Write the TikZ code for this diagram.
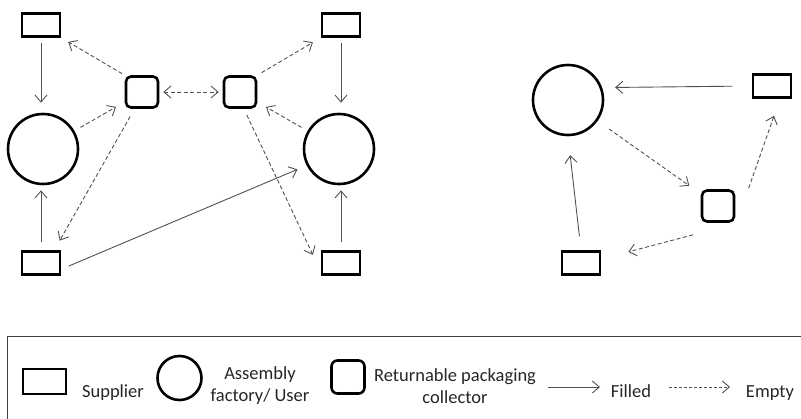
\documentclass[tikz,border=0pt]{standalone}
\usepackage{fontspec}
\setmainfont{Carlito}
\usetikzlibrary{arrows.meta}
\definecolor{arrowgray}{HTML}{505050}
\definecolor{txtgray}{HTML}{262626}
\definecolor{legline}{HTML}{404040}
\tikzset{barb/.tip={Straight Barb[length=7pt,width=12pt]}}
\begin{document}
\begin{tikzpicture}[x=1pt,y=-1pt,
 sup/.style={draw=black, line width=2.6pt, minimum width=38pt, minimum height=23pt, inner sep=0pt},
 fac/.style={draw=black, circle, line width=2.6pt, minimum size=70pt, inner sep=0pt},
 col/.style={draw=black, rounded corners=5pt, line width=2.6pt, minimum width=32pt, minimum height=31pt, inner sep=0pt},
 filled/.style={draw=arrowgray, line width=0.9pt, -barb},
 empty/.style={filled, dash pattern=on 4pt off 2.5pt},
 lbl/.style={font=\fontsize{18.5}{22}\selectfont, text=txtgray, inner sep=0pt}
]
\useasboundingbox (0,0) rectangle (801,418);
% left diagram
\node[sup] (s1) at (41,25) {};
\node[sup] (s2) at (41,263) {};
\node[fac] (c1) at (43,149) {};
\node[col] (k1) at (142,92) {};
\node[col] (k2) at (240,92) {};
\node[fac] (c2) at (339,149) {};
\node[sup] (s3) at (341,25) {};
\node[sup] (s4) at (341,263) {};
% right diagram
\node[fac] (c3) at (568,100) {};
\node[sup] (s5) at (772,86) {};
\node[col] (k3) at (718,206) {};
\node[sup] (s6) at (581,263) {};
% left connectors
\draw[filled, shorten <=5pt, shorten >=10pt] (s1.south) -- (s1.south |- c1.north);
\draw[filled, shorten <=8pt, shorten >=5pt] (s2.north) -- (s2.north |- c1.south);
\draw[empty, shorten <=7pt, shorten >=10pt] (c1) -- (k1);
\draw[empty, shorten <=3pt, shorten >=8pt] (k1.north west) -- (s1.south east);
\draw[empty, shorten <=9pt, shorten >=11pt] (k1.246) -- (s2.44);
\draw[empty, barb-barb, shorten <=4pt, shorten >=4pt] (k1.east) -- (k2.west);
\draw[empty, shorten <=5pt, shorten >=9pt] (k2.north east) -- (s3.south west);
\draw[empty, shorten <=7pt, shorten >=10pt] (c2) -- (k2);
\draw[empty, shorten <=7pt, shorten >=9pt] (k2.283) -- ([xshift=-4pt]s4.west);
\draw[filled, shorten <=8pt, shorten >=10pt] (s2.-17) -- (c2.207);
\draw[filled, shorten <=5pt, shorten >=10pt] (s3.south) -- (s3.south |- c2.north);
\draw[filled, shorten <=8pt, shorten >=5pt] (s4.north) -- (s4.north |- c2.south);
% right connectors
\draw[filled, shorten <=19pt, shorten >=13pt] (s5.west) -- (c3.20);
\draw[empty, shorten <=14pt, shorten >=14pt] (c3) -- (k3);
\draw[empty, shorten <=1pt, shorten >=18pt] ([xshift=13pt]k3.north east) -- ([xshift=8pt]s5.south);
\draw[empty, shorten <=8pt, shorten >=28pt] ([yshift=-10pt]k3.south west) -- ([yshift=4pt]s6.east);
\draw[filled, shorten <=14pt, shorten >=19pt] (s6.north) -- (c3.south);
% legend
\draw[line width=0.9pt, draw=legline] (7,420) -- (7,336) -- (803,336);
\node[sup, minimum width=43pt, minimum height=25pt] (ls) at (44.5,381.5) {};
\node[lbl, anchor=base] (lt1) at (113,397) {Supplier};
\node[fac, minimum size=44pt] (lc) at (179.5,378) {};
\node[lbl, align=center] (lt2) at (260,386) {Assembly\\factory/ User};
\node[col, minimum width=33pt, minimum height=33pt, rounded corners=6pt] (lk) at (348,377) {};
\node[lbl, align=center] (lt3) at (455,386) {Returnable packaging\\collector};
\coordinate (fa) at (548,387);
\coordinate (fb) at (600,387);
\draw[filled] (fa) -- (fb);
\node[lbl, anchor=base] (lt4) at (631,397) {Filled};
\coordinate (ea) at (669,387);
\coordinate (eb) at (730,387);
\draw[empty, dash pattern=on 3pt off 2pt] (ea) -- (eb);
\node[lbl, anchor=base] (lt5) at (770,397) {Empty};
\end{tikzpicture}
\end{document}
